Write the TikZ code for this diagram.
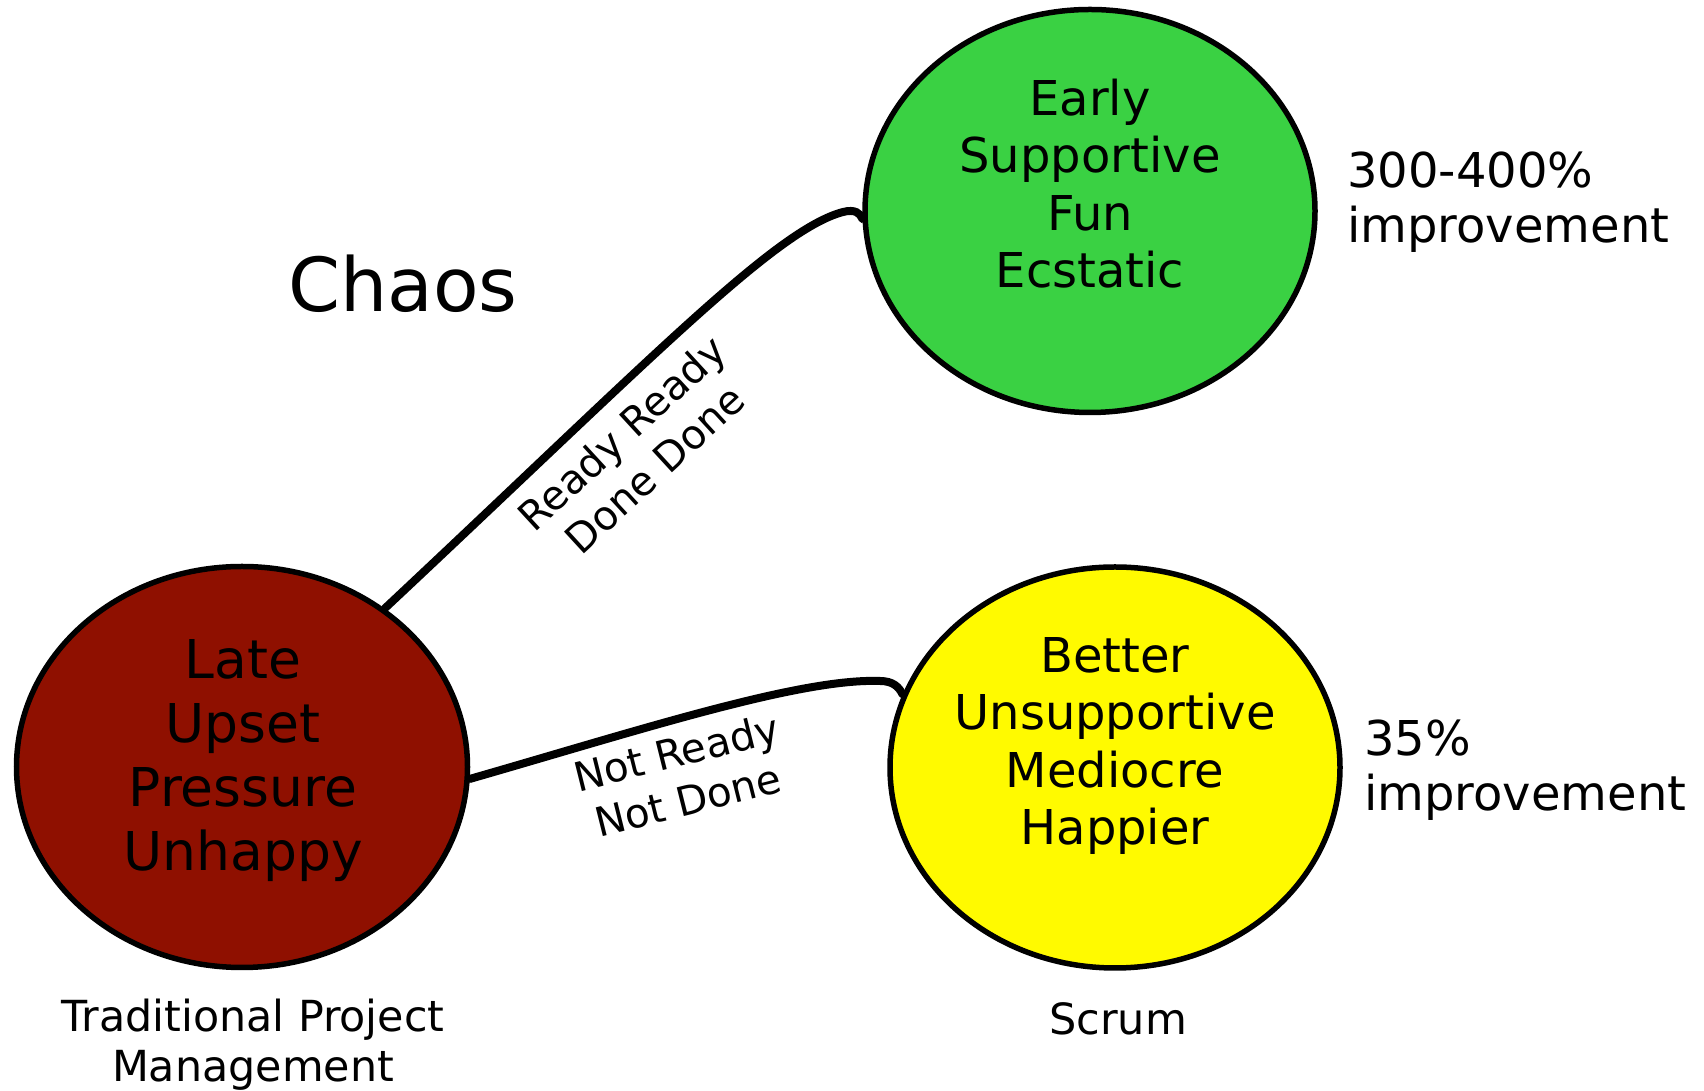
\documentclass[tikz,border=0pt]{standalone}
\usepackage{fontspec}
\setmainfont{DejaVu Sans}
\usetikzlibrary{shapes.geometric}
\definecolor{redc}{RGB}{143,16,0}
\definecolor{greenc}{RGB}{58,209,67}
\definecolor{yellowc}{RGB}{255,250,0}
\begin{document}
\begin{tikzpicture}[x=1pt,y=1pt,
  ell/.style={ellipse, draw=black, line width=5.5pt, inner sep=0pt},
  conn/.style={draw=black, line width=8pt, line cap=round},
  redtxt/.style={font=\fontsize{53.5}{64}\selectfont, align=center, inner sep=0pt},
  midtxt/.style={font=\fontsize{48}{57.3}\selectfont, align=center, inner sep=0pt},
  sidetxt/.style={font=\fontsize{48}{55}\selectfont, align=left, inner sep=0pt},
  edgetxt/.style={font=\fontsize{40.5}{49}\selectfont, align=center, inner sep=0pt},
  captxt/.style={font=\fontsize{42.8}{50}\selectfont, align=center, inner sep=0pt}]
\useasboundingbox (0,0) rectangle (1704,1091);

% ellipses
\node[ell, fill=redc, minimum width=451pt, minimum height=401pt] (red) at (242,324) {};
\node[ell, fill=greenc, minimum width=450pt, minimum height=403pt] (green) at (1090,880) {};
\node[ell, fill=yellowc, minimum width=450pt, minimum height=401pt] (yellow) at (1115,323.5) {};

% texts inside
\node[redtxt] (redt) at (243,330) {Late\\Upset\\Pressure\\Unhappy};
\node[midtxt] (greent) at (1090,907.5) {Early\\Supportive\\Fun\\Ecstatic};
\node[midtxt] (yellowt) at (1115,345) {Better\\Unsupportive\\Mediocre\\Happier};

% connectors
\draw[conn] (red.48) .. controls (650,731) and (775,861) .. (843,879)
  .. controls (855,882) and (860,878) .. (green.182);
\draw[conn] (red.-3) .. controls (640,361) and (800,413) .. (880,410)
  .. controls (893,410) and (899,404) .. (yellow.161);

% connector labels
\node[edgetxt, rotate=42.6] (rrdd) at (638,640) {Ready Ready\\Done Done};
\node[edgetxt, rotate=14] (nrnd) at (682,315) {Not Ready\\Not Done};

% free labels
\node[font=\fontsize{74.5}{80}\selectfont, inner sep=0pt, anchor=base west] (chaos) at (288,779) {Chaos};
\node[sidetxt, anchor=north west] (imp1) at (1347,939) {300-400\%\\improvement};
\node[sidetxt, anchor=north west] (imp2) at (1364,371) {35\%\\improvement};
\node[captxt, anchor=north] (tpm) at (253,92) {Traditional Project\\Management};
\node[font=\fontsize{43}{48}\selectfont, inner sep=0pt, anchor=base] (scrum) at (1118,56) {Scrum};
\end{tikzpicture}
\end{document}
